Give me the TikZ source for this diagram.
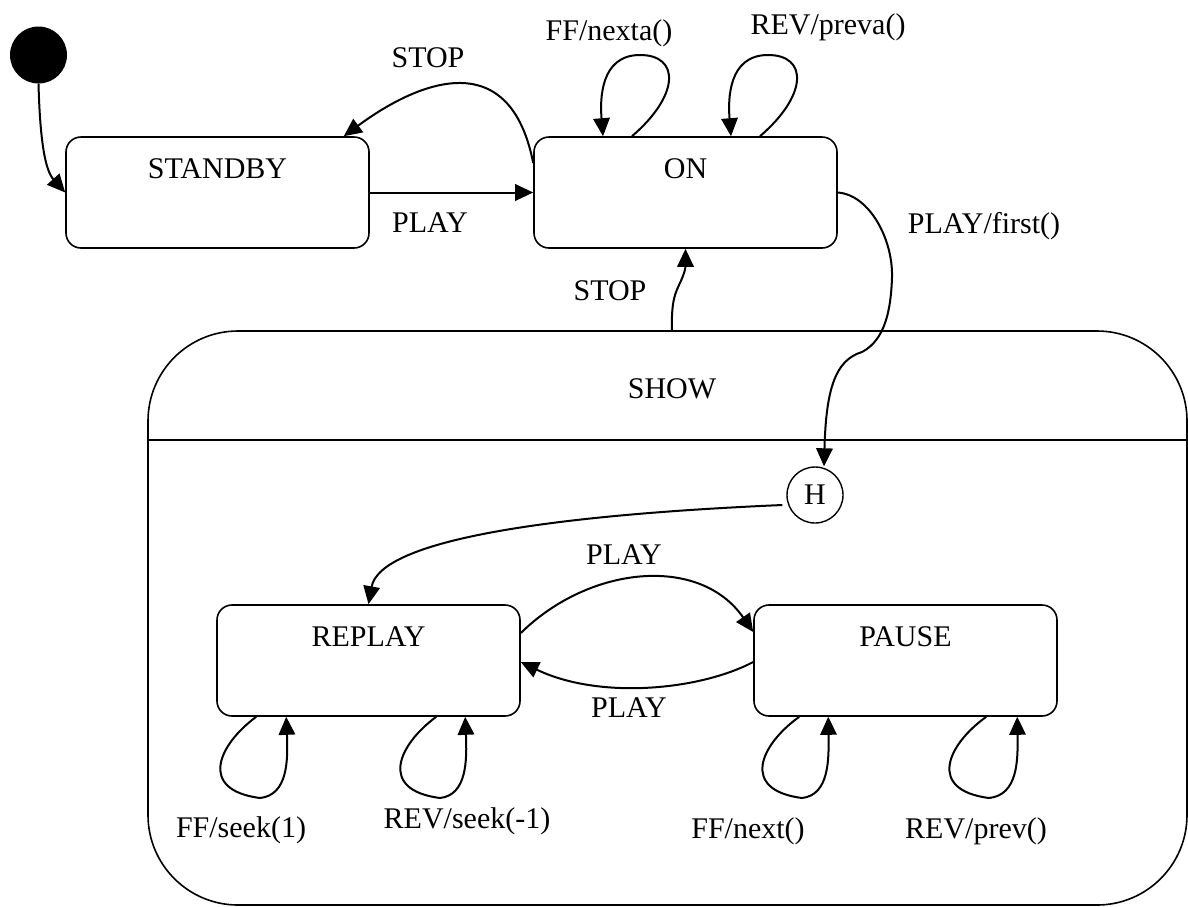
\documentclass[tikz,border=0pt]{standalone}
\usepackage{fontspec}
\setmainfont{Liberation Serif}
\usetikzlibrary{arrows.meta}
\begin{document}
\begin{tikzpicture}[x=1pt,y=-1pt,
  font=\fontsize{30}{36}\selectfont,
  statebox/.style={draw, rounded corners=15pt, minimum width=303pt, minimum height=111pt, inner sep=0pt, line width=1.6pt},
  lbl/.style={anchor=base, inner sep=0pt},
  arr/.style={line width=2pt, -{Triangle[length=18pt,width=16.5pt]}},
  loopline/.style={line width=2pt, -{Triangle[length=18pt,width=16.5pt]}}]
\useasboundingbox (0,0) rectangle (1188,906);
% composite state SHOW
\node[draw, rounded corners=90pt, minimum width=1039pt, minimum height=574pt, inner sep=0pt, line width=1.6pt] (show) at (667.5,618) {};
\draw[line width=2.5pt] (show.west |- 0,440) -- (show.east |- 0,440);
\node[lbl] (showlbl) at (672,398) {SHOW};
% states
\node[circle, fill=black, minimum size=57pt, inner sep=0pt] (init) at (38.5,55) {};
\node[statebox] (standby) at (217.5,192.5) {};
\node[lbl] (standbylbl) at (217.5,178) {STANDBY};
\node[statebox] (on) at (685.5,192.5) {};
\node[lbl] (onlbl) at (685.5,178) {ON};
\node[statebox] (replay) at (368.5,660.5) {};
\node[lbl] (replaylbl) at (368.5,646) {REPLAY};
\node[statebox] (pause) at (905.5,660.5) {};
\node[lbl] (pauselbl) at (905.5,646) {PAUSE};
\node[draw, circle, minimum size=56pt, inner sep=0pt, line width=1.4pt] (h) at (815,495) {H};
% transitions
\draw[arr] (init.south) .. controls (40,140) and (45,170) .. (standby.west);
\draw[arr] (standby.east) -- (on.west);
\node[lbl] (l1) at (430,232) {PLAY};
\draw[arr] ([yshift=29.5pt]on.west) .. controls (510,45) and (420,80) .. ([xshift=-26pt]standby.north east);
\node[lbl] (l2) at (428,67) {STOP};
% self loops on ON
\draw[loopline] ([xshift=-53.5pt]on.north) .. controls (680,95) and (680,55) .. (640,55) .. controls (600,55) and (600,100) .. ([xshift=-82.5pt]on.north);
\node[lbl] (l3) at (609,40) {FF/nexta()};
\draw[loopline] ([xshift=74.5pt]on.north) .. controls (808,95) and (808,55) .. (768,55) .. controls (728,55) and (728,100) .. ([xshift=45.5pt]on.north);
\node[lbl] (l4) at (828,34) {REV/preva()};
% ON -> H
\draw[arr] (on.east) .. controls (870,195) and (893,240) .. (892,277) .. controls (891,310) and (885,340) .. (862,352) .. controls (835,360) and (826,390) .. ([xshift=9pt]h.north);
\node[lbl] (l5) at (984,233) {PLAY/first()};
% SHOW -> ON
\draw[arr] ([xshift=4.5pt]show.north) .. controls (671,300) and (676,292) .. (679,285) .. controls (684,275) and (685.5,268) .. (on.south);
\node[lbl] (l6) at (610,300) {STOP};
% H -> REPLAY
\draw[arr] ([shift={(-4pt,-10pt)}]h.west) .. controls (550,515) and (380,540) .. (replay.north);
% REPLAY <-> PAUSE
\draw[arr] ([yshift=27.5pt]replay.east) .. controls (590,565) and (700,555) .. ([yshift=28.5pt]pause.west);
\node[lbl] (l7) at (624,564) {PLAY};
\draw[arr] ([yshift=-1.5pt]pause.west) .. controls (700,690) and (600,700) .. ([yshift=-1.5pt]replay.east);
\node[lbl] (l8) at (629,717) {PLAY};
% self loops below REPLAY and PAUSE
\draw[loopline] ([xshift=40pt]replay.south west) .. controls (218,745) and (198,790) .. (260,798) .. controls (288,795) and (288,760) .. ([xshift=70pt]replay.south west);
\node[lbl] (l9) at (241,837) {FF/seek(1)};
\draw[loopline] ([xshift=220pt]replay.south west) .. controls (398,745) and (378,790) .. (440,798) .. controls (467,795) and (467,760) .. ([xshift=249pt]replay.south west);
\node[lbl] (l10) at (467,828) {REV/seek(-1)};
\draw[loopline] ([xshift=46pt]pause.south west) .. controls (760,745) and (740,790) .. (802,798) .. controls (829,795) and (829,760) .. ([xshift=75pt]pause.south west);
\node[lbl] (l11) at (748,838) {FF/next()};
\draw[loopline] ([xshift=233pt]pause.south west) .. controls (947,745) and (927,790) .. (989,798) .. controls (1018,795) and (1018,760) .. ([xshift=264pt]pause.south west);
\node[lbl] (l12) at (976,838) {REV/prev()};
\end{tikzpicture}
\end{document}
